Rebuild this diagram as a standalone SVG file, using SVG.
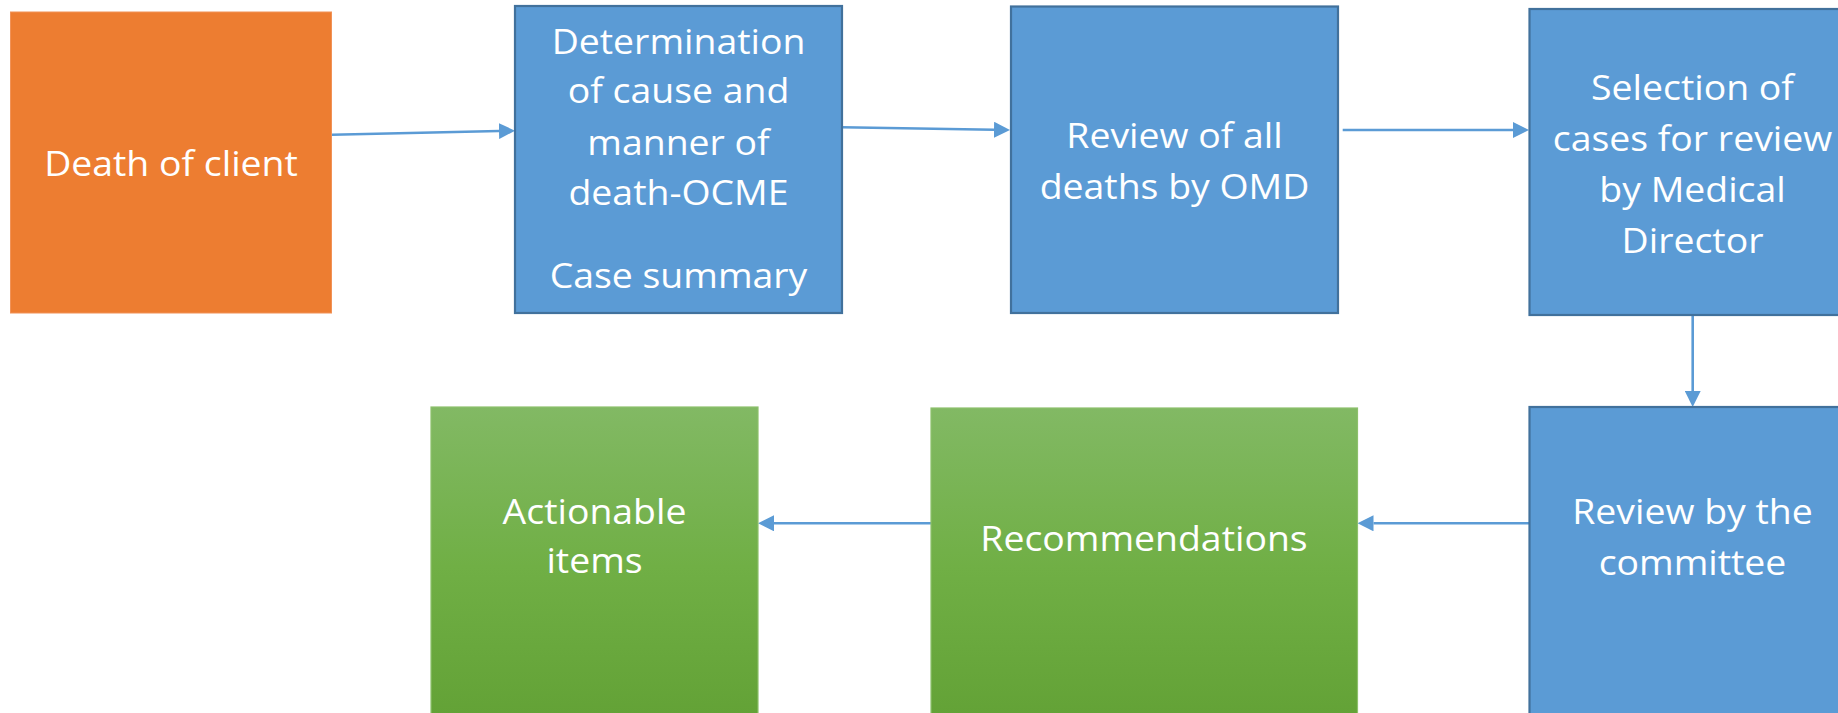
<svg xmlns="http://www.w3.org/2000/svg" width="1838" height="713" viewBox="0 0 1838 713">
  <style>
    .blue { fill: #5B9BD5; stroke: #41719C; stroke-width: 2.2; }
    .orange { fill: #ED7D31; stroke: #F19257; stroke-width: 1; }
    .green { fill: url(#greenFill); stroke: #8DC06C; stroke-width: 1.2; }
    .lbl { font-family: "Open Sans", "Noto Sans", "Liberation Sans", sans-serif; font-size: 34px; fill: #FFFFFF; text-anchor: middle; }
    .conn { fill: none; stroke: #5B9BD5; stroke-width: 2.6; }
  </style>
  <defs>
    <linearGradient id="greenFill" x1="0" y1="0" x2="0" y2="1">
      <stop offset="0" stop-color="#82B964"/>
      <stop offset="0.5" stop-color="#70AF45"/>
      <stop offset="1" stop-color="#62A135"/>
    </linearGradient>
    <marker id="arrow" viewBox="0 0 16 16" refX="0" refY="8" markerWidth="16" markerHeight="16" markerUnits="userSpaceOnUse" orient="auto">
      <path d="M0,0 L16,8 L0,16 z" fill="#5B9BD5"/>
    </marker>
  </defs>

  <rect width="1838" height="713" fill="#FFFFFF"/>

  <g id="connectors">
    <path class="conn" d="M332,134.7 L499,131.05" marker-end="url(#arrow)"/>
    <path class="conn" d="M842,127.3 L994,129.74" marker-end="url(#arrow)"/>
    <path class="conn" d="M1342.7,130 L1513,130" marker-end="url(#arrow)"/>
    <path class="conn" d="M1692.7,315 L1692.7,391" marker-end="url(#arrow)"/>
    <path class="conn" d="M1530,523.3 L1373.5,523.3" marker-end="url(#arrow)"/>
    <path class="conn" d="M931,523.3 L774,523.3" marker-end="url(#arrow)"/>
  </g>

  <g id="death-of-client">
    <rect class="orange" x="10.5" y="12" width="321" height="301"/>
    <g transform="translate(171 0) scale(1.1 1)">
      <text class="lbl" x="0" y="175.7">Death of client</text>
    </g>
  </g>

  <g id="determination">
    <rect class="blue" x="515" y="6" width="327" height="307"/>
    <g transform="translate(678.5 0) scale(1.1 1)">
      <text class="lbl" x="0" y="54">Determination</text>
      <text class="lbl" x="0" y="103.3">of cause and</text>
      <text class="lbl" x="0" y="155">manner of</text>
      <text class="lbl" x="0" y="205">death-OCME</text>
      <text class="lbl" x="0" y="288">Case summary</text>
    </g>
  </g>

  <g id="review-all-deaths">
    <rect class="blue" x="1011" y="6.5" width="327" height="306.5"/>
    <g transform="translate(1174.5 0) scale(1.1 1)">
      <text class="lbl" x="0" y="148.3">Review of all</text>
      <text class="lbl" x="0" y="199">deaths by OMD</text>
    </g>
  </g>

  <g id="selection">
    <rect class="blue" x="1529.5" y="9" width="327" height="306"/>
    <g transform="translate(1692.5 0) scale(1.1 1)">
      <text class="lbl" x="0" y="100">Selection of</text>
      <text class="lbl" x="0" y="151">cases for review</text>
      <text class="lbl" x="0" y="202">by Medical</text>
      <text class="lbl" x="0" y="253">Director</text>
    </g>
  </g>

  <g id="committee-review">
    <rect class="blue" x="1529.5" y="407" width="327" height="320"/>
    <g transform="translate(1692.5 0) scale(1.1 1)">
      <text class="lbl" x="0" y="523.6">Review by the</text>
      <text class="lbl" x="0" y="575">committee</text>
    </g>
  </g>

  <g id="recommendations">
    <rect class="green" x="931" y="408" width="426.5" height="320"/>
    <g transform="translate(1144 0) scale(1.1 1)">
      <text class="lbl" x="0" y="550.7">Recommendations</text>
    </g>
  </g>

  <g id="actionable-items">
    <rect class="green" x="431" y="407" width="327" height="320"/>
    <g transform="translate(594.5 0) scale(1.1 1)">
      <text class="lbl" x="0" y="524.3">Actionable</text>
      <text class="lbl" x="0" y="573.3">items</text>
    </g>
  </g>
</svg>
